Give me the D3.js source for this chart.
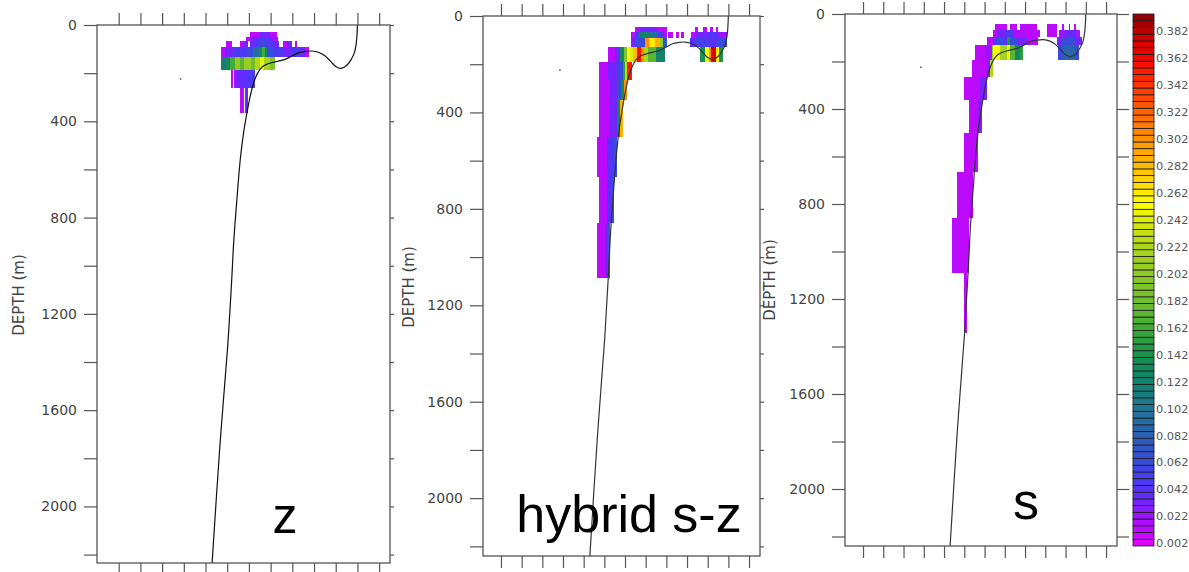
<!DOCTYPE html>
<html><head><meta charset="utf-8">
<script src="https://cdn.jsdelivr.net/npm/d3@7"></script>
<style>html,body{margin:0;padding:0;background:#fff;overflow:hidden}</style>
</head><body><svg id="c" width="1189" height="572"></svg>
<script>
// ---------------- DATA ----------------
// bathymetry profile: [x index, depth (m)]
const bathymetry = [[12.0,0],[11.98,40],[11.94,80],[11.86,115],[11.7,145],[11.5,168],[11.25,180],[11.0,172],[10.75,150],[10.5,128],[10.2,113],[9.9,108],[9.6,110],[9.3,115],[9.0,128],[8.6,145],[8.2,153],[7.85,162],[7.6,175],[7.4,200],[7.2,245],[7.05,300],[6.92,360],[6.75,450],[6.6,560],[6.45,720],[6.3,900],[6.2,1070],[6.02,1336],[5.66,1751],[5.3,2240]];
const stationMark = [[3.85,224]];

// concentration cells: [depthTop, depthBottom, [[x0, x1, value], ...]]
const zRows = [
  [30,48,[[7.03,7.5,0.01],[7.5,7.95,0.03],[7.95,8.28,0.01]]],
  [48,66,[[6.88,7.1,0.01],[7.1,7.4,0.03],[7.4,7.7,0.045],[7.7,8.0,0.04],[8.0,8.2,0.025],[8.2,8.34,0.01]]],
  [66,90,[[5.96,6.24,0.01],[6.57,6.75,0.01],[6.75,6.94,0.03],[7.03,7.3,0.035],[7.3,7.6,0.05],[7.6,7.8,0.07],[7.8,8.1,0.045],[8.1,8.4,0.03],[8.55,8.75,0.01],[8.75,9.0,0.03],[9.1,9.2,0.01]]],
  [90,133,[[5.7,5.9,0.01],[5.9,6.3,0.03],[6.3,6.9,0.045],[6.9,7.2,0.06],[7.2,7.45,0.09],[7.45,7.6,0.13],[7.6,7.72,0.16],[7.72,7.85,0.12],[7.85,8.1,0.06],[8.1,8.6,0.045],[8.6,9.0,0.03],[9.0,9.4,0.045],[9.4,9.6,0.03],[9.6,9.75,0.01]]],
  [133,187,[[5.73,5.95,0.11],[5.95,6.15,0.13],[6.15,6.35,0.16],[6.35,6.6,0.2],[6.6,6.75,0.17],[6.75,7.1,0.205],[7.1,7.3,0.18],[7.3,7.5,0.22],[7.5,7.7,0.245],[7.7,7.95,0.215],[7.95,8.18,0.19]]],
  [187,262,[[6.19,6.27,0.01],[6.32,6.45,0.02],[6.45,6.9,0.035],[6.9,7.3,0.045]]],
  [262,365,[[6.6,6.75,0.01],[6.82,6.96,0.035]]]
];
const hybridRows = [
  [44,65,[[7.48,7.7,0.01],[7.7,8.6,0.03],[8.6,9.03,0.01],[10.4,10.55,0.01],[10.75,10.95,0.01],[11.1,11.25,0.01],[11.4,11.5,0.01]]],
  [65,93,[[7.3,7.48,0.01],[7.48,7.7,0.05],[7.7,8.2,0.12],[8.2,8.6,0.09],[8.6,8.9,0.05],[8.9,9.05,0.01],[9.1,9.3,0.01],[9.45,9.6,0.01],[9.7,9.85,0.01],[10.2,10.4,0.01],[10.4,11.0,0.03],[11.0,11.5,0.04],[11.5,11.92,0.02]]],
  [93,127,[[7.3,7.5,0.03],[7.5,7.95,0.06],[7.95,8.15,0.3],[8.15,8.45,0.26],[8.45,8.7,0.29],[8.7,8.85,0.2],[8.85,9.02,0.07],[10.15,10.4,0.04],[10.4,11.0,0.05],[11.0,11.5,0.04],[11.5,11.92,0.06]]],
  [127,190,[[6.19,6.5,0.01],[6.5,6.76,0.03],[6.76,6.95,0.13],[6.95,7.1,0.19],[7.1,7.25,0.25],[7.25,7.4,0.24],[7.4,7.6,0.28],[7.6,7.75,0.355],[7.75,7.9,0.3],[7.9,8.1,0.22],[8.1,8.5,0.17],[8.5,8.93,0.12],[10.63,10.88,0.14],[10.88,11.05,0.25],[11.05,11.18,0.3],[11.18,11.42,0.37],[11.42,11.55,0.26],[11.55,11.76,0.14]]],
  [190,266,[[5.76,6.19,0.01],[6.19,6.6,0.03],[6.6,6.92,0.06],[6.92,7.0,0.15],[7.0,7.11,0.23],[7.11,7.32,0.35]]],
  [266,349,[[5.76,6.27,0.01],[6.27,6.6,0.03],[6.6,6.8,0.07],[6.8,6.95,0.13],[6.95,7.11,0.3]]],
  [349,500,[[5.76,6.27,0.01],[6.27,6.6,0.03],[6.6,6.75,0.12],[6.75,6.9,0.29]]],
  [500,667,[[5.66,6.11,0.01],[6.11,6.47,0.04],[6.47,6.63,0.06]]],
  [667,860,[[5.72,6.11,0.01],[6.11,6.3,0.04],[6.3,6.47,0.055]]],
  [860,1088,[[5.66,6.03,0.01],[6.03,6.19,0.03],[6.19,6.27,0.065]]]
];
const sRows = [
  [42,67,[[7.52,8.1,0.01],[8.26,8.6,0.01],[8.75,9.58,0.01],[10.1,10.57,0.01],[10.8,10.9,0.01],[11.15,11.22,0.01],[11.4,11.5,0.01]]],
  [67,95,[[7.44,7.6,0.01],[7.6,8.0,0.03],[8.0,8.45,0.045],[8.45,9.0,0.015],[9.0,9.74,0.01],[10.1,10.57,0.01],[10.7,11.0,0.02],[11.0,11.5,0.035],[11.5,11.7,0.015]]],
  [95,130,[[7.11,7.44,0.01],[7.44,7.52,0.03],[7.52,7.93,0.06],[7.93,8.1,0.04],[8.1,8.26,0.14],[8.26,8.59,0.06],[8.59,9.1,0.03],[9.1,9.66,0.01],[10.57,10.8,0.03],[10.8,11.5,0.06],[11.5,11.8,0.03]]],
  [130,194,[[6.53,7.0,0.01],[7.0,7.35,0.02],[7.35,7.44,0.2],[7.44,7.77,0.25],[7.77,8.1,0.215],[8.1,8.26,0.245],[8.26,8.5,0.17],[8.5,8.75,0.13],[8.75,8.92,0.15],[10.65,10.85,0.06],[10.85,11.45,0.085],[11.45,11.64,0.06]]],
  [194,264,[[6.37,7.11,0.01],[7.11,7.27,0.03],[7.27,7.44,0.22]]],
  [264,362,[[5.99,6.78,0.01],[6.78,7.11,0.03]]],
  [362,502,[[6.25,6.7,0.01],[6.7,6.86,0.025]]],
  [502,664,[[5.99,6.7,0.01]]],
  [664,860,[[5.63,6.45,0.01]]],
  [860,1092,[[5.41,6.25,0.01]]],
  [1092,1343,[[6.0,6.15,0.01]]]
];

const panelTitles = ['z','hybrid s-z','s'];
const depthTicks = [0,200,400,600,800,1000,1200,1400,1600,1800,2000,2200];
const depthLabels = [0,400,800,1200,1600,2000];
const xTicks = [1,2,3,4,5,6,7,8,9,10,11,12,13];
const yAxisTitle = 'DEPTH (m)';

const colorbarLabels = ['0.002','0.022','0.042','0.062','0.082','0.102','0.122','0.142','0.162','0.182','0.202','0.222','0.242','0.262','0.282','0.302','0.322','0.342','0.362','0.382'];
const colorStep = 0.005;
const colorMax = 0.395;
const cmapValues = [0,0.02,0.04,0.06,0.08,0.1,0.12,0.14,0.16,0.18,0.2,0.22,0.24,0.255,0.27,0.29,0.31,0.33,0.35,0.365,0.38,0.395];
const cmapColors = ['#e400ff','#a410ff','#5a30ff','#3a48e0','#2c5cb8','#20749a','#128070','#129050','#3aa838','#6cbc30','#8cc828','#a8d41c','#d8e80c','#ffff00','#ffd800','#ffac00','#ff8000','#ff5000','#ff2000','#f00000','#c80000','#880000'];

// ---------------- DRAW ----------------
const svg = d3.select('#c');
const cmap = d3.scaleLinear().domain(cmapValues).range(cmapColors).interpolate(d3.interpolateRgb).clamp(true);
const colorOf = v => { const k = Math.min(Math.floor(v/colorStep), Math.round(colorMax/colorStep)-1); return cmap((k+0.5)*colorStep); };

const panels = [
  {rows:zRows, left:97, top:25, right:390, bottom:563, tDom:[0,13.5], dDom:[0,2235], rTick:4, titleX:285, titleY:533, fs:50, ylabX:19, ylabY:295, lineColor:'#111'},
  {rows:hybridRows, left:483, top:16, right:760, bottom:556, tDom:[0.13,13.53], dDom:[0,2240], rTick:4, titleX:629, titleY:532, fs:52, ylabX:409, ylabY:287, lineColor:'#333'},
  {rows:sRows, left:845, top:14, right:1117, bottom:546, tDom:[0.11,13.54], dDom:[0,2240], rTick:12, titleX:1026, titleY:519, fs:52, ylabX:770, ylabY:280, lineColor:'#333'}
];
const axisColor = '#555';

panels.forEach((p, i) => {
  const x = d3.scaleLinear().domain(p.tDom).range([p.left, p.right]);
  const y = d3.scaleLinear().domain(p.dDom).range([p.top, p.bottom]);
  const g = svg.append('g');
  const clipId = 'clip' + i;
  g.append('clipPath').attr('id', clipId).append('rect')
    .attr('x', p.left).attr('y', p.top).attr('width', p.right - p.left).attr('height', p.bottom - p.top);
  const inner = g.append('g').attr('clip-path', `url(#${clipId})`);

  const cells = [];
  p.rows.forEach(([d0, d1, runs]) => runs.forEach(([t0, t1, v]) => cells.push({d0, d1, t0, t1, v})));
  inner.selectAll('rect.cell').data(cells).join('rect').attr('class','cell')
    .attr('x', d => x(d.t0)).attr('y', d => y(d.d0))
    .attr('width', d => x(d.t1) - x(d.t0)).attr('height', d => y(d.d1) - y(d.d0))
    .attr('fill', d => colorOf(d.v)).attr('shape-rendering','crispEdges');

  inner.append('path').datum(bathymetry)
    .attr('d', d3.line().x(d => x(d[0])).y(d => y(d[1])).curve(d3.curveCatmullRom.alpha(0.5)))
    .attr('fill','none').attr('stroke', p.lineColor).attr('stroke-width',1.2);

  inner.selectAll('circle.mark').data(stationMark).join('circle').attr('class','mark')
    .attr('cx', d => x(d[0])).attr('cy', d => y(d[1])).attr('r', 0.9).attr('fill', '#666');

  // axes
  const styleAxis = sel => {
    sel.select('.domain').remove();
    sel.selectAll('line').attr('stroke', axisColor).attr('stroke-width', 1.2);
    sel.selectAll('text').attr('fill', '#444').attr('font-family', 'DejaVu Sans').attr('font-size', 14);
  };
  g.append('g').attr('transform', `translate(${p.left},0)`)
    .call(d3.axisLeft(y).tickValues(depthTicks).tickSize(13).tickPadding(7)
      .tickFormat(d => depthLabels.includes(d) ? d : ''))
    .call(styleAxis);
  g.append('g').attr('transform', `translate(${p.right},0)`)
    .call(d3.axisRight(y).tickValues(depthTicks).tickSize(p.rTick).tickFormat(''))
    .call(styleAxis);
  g.append('g').attr('transform', `translate(0,${p.top})`)
    .call(d3.axisTop(x).tickValues(xTicks).tickSize(12).tickFormat(''))
    .call(styleAxis);
  g.append('g').attr('transform', `translate(0,${p.bottom})`)
    .call(d3.axisBottom(x).tickValues(xTicks).tickSize(12).tickFormat(''))
    .call(styleAxis);

  g.append('rect').attr('x', p.left).attr('y', p.top)
    .attr('width', p.right - p.left).attr('height', p.bottom - p.top)
    .attr('fill','none').attr('stroke', axisColor).attr('stroke-width', 1.3);

  g.append('text').attr('transform', `translate(${p.ylabX},${p.ylabY}) rotate(-90)`)
    .attr('text-anchor','middle').attr('dominant-baseline','central')
    .attr('font-family','DejaVu Sans').attr('font-size',15).attr('fill','#444')
    .text(yAxisTitle);

  g.append('text').attr('x', p.titleX).attr('y', p.titleY)
    .attr('text-anchor','middle').attr('font-family','Liberation Sans, Arial, sans-serif')
    .attr('font-size', p.fs).attr('fill','#000').text(panelTitles[i]);
});

// colorbar
const cb = d3.scaleLinear().domain([0, colorMax]).range([546, 14]);
const nBoxes = Math.round(colorMax / colorStep);
const boxes = d3.range(nBoxes).map(k => k * colorStep);
svg.append('g').selectAll('rect').data(boxes).join('rect')
  .attr('x', 1133).attr('width', 21)
  .attr('y', d => cb(d + colorStep)).attr('height', d => cb(d) - cb(d + colorStep))
  .attr('fill', d => cmap(d + colorStep/2)).attr('stroke','#1a1a1a').attr('stroke-width',0.8);
svg.append('g').selectAll('text').data(colorbarLabels).join('text')
  .attr('x', 1156).attr('y', d => cb(+d)).attr('dy','0.35em')
  .attr('font-family','DejaVu Sans').attr('font-size',11.3).attr('fill','#555')
  .text(d => d);
</script></body></html>
